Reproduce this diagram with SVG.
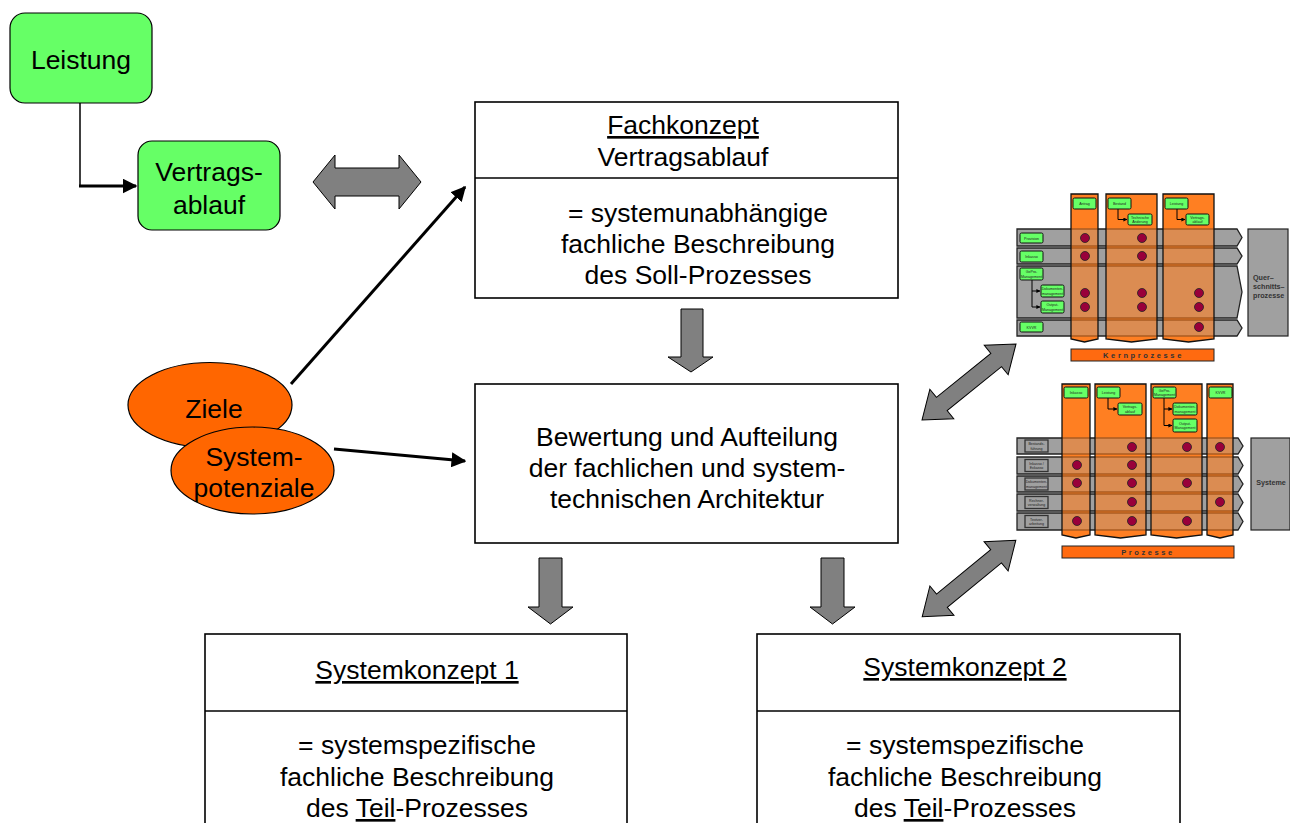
<svg xmlns="http://www.w3.org/2000/svg" width="1290" height="823" viewBox="0 0 1290 823">
  <style>
    .t{font-family:"Liberation Sans",Arial,sans-serif;font-size:26.5px;fill:#000;text-anchor:middle}
    .box{fill:#fff;stroke:#000;stroke-width:1.6}
    .green{fill:#66ff66;stroke:#000;stroke-width:1.2}
    .oval{fill:#ff6600;stroke:#000;stroke-width:1.2}
    .block{fill:#808080;stroke:#000;stroke-width:1}
    .ln{fill:none;stroke:#000}
    .row{fill:#a0a0a0;stroke:#222;stroke-width:1.3}
    .col{fill:#ff7f22;stroke:none}
    .colo{fill:#ff7f22;fill-opacity:0.62;stroke:#111;stroke-width:1.3}
    .bar{fill:#ff6a10;stroke:#222;stroke-width:1}
    .side{fill:#a0a0a0;stroke:#222;stroke-width:1.2}
    .mg{fill:#66ff66;stroke:#111;stroke-width:1}
    .mgr{fill:#a0a0a0;stroke:#333;stroke-width:1.3}
    .dot{fill:#99003a;stroke:#222;stroke-width:0.8}
    .tiny{font-family:"Liberation Sans",Arial,sans-serif;font-size:3.6px;fill:#222;text-anchor:middle}
    .small{font-family:"Liberation Sans",Arial,sans-serif;font-size:7.2px;font-weight:bold;fill:#333}
    .bartxt{font-family:"Liberation Sans",Arial,sans-serif;font-size:7.5px;font-weight:bold;fill:#333;text-anchor:middle;letter-spacing:2.6px}
    .mln{fill:none;stroke:#000;stroke-width:1}
  </style>
  <defs>
    <marker id="ah" viewBox="0 0 10 10" refX="9" refY="5" markerWidth="5" markerHeight="5" orient="auto" markerUnits="strokeWidth">
      <path d="M0,0 L10,5 L0,10 Z" fill="#000"/>
    </marker>
    <marker id="ahs" viewBox="0 0 10 10" refX="9" refY="5" markerWidth="4" markerHeight="4" orient="auto" markerUnits="strokeWidth">
      <path d="M0,0 L10,5 L0,10 Z" fill="#000"/>
    </marker>
    <path id="dbl" d="M-60.5,0 L-35,-19 V-8.5 H35 V-19 L60.5,0 L35,19 V8.5 H-35 V19 Z"/>
  </defs>

  <!-- connectors -->
  <g id="connectors">
    <polyline class="ln" stroke-width="1.5" points="80,103 80,186"/>
    <line class="ln" stroke-width="3" x1="79" y1="186" x2="136" y2="186" marker-end="url(#ah)"/>
    <line class="ln" stroke-width="3" x1="291" y1="384" x2="465" y2="187" marker-end="url(#ah)"/>
    <line class="ln" stroke-width="3" x1="334" y1="449" x2="465" y2="461" marker-end="url(#ah)"/>
    <path class="block" d="M313,182 L335,155 V168 H399 V155 L421,182 L399,209 V196 H335 V209 Z"/>
    <path class="block" d="M681,309 H703 V357 H713 L691,372 L668,357 H681 Z"/>
    <path class="block" d="M539,558 H562 V607 H573 L550.5,624 L528,607 H539 Z"/>
    <path class="block" d="M821,558 H844 V607 H855 L832.5,624 L810,607 H821 Z"/>
    <use href="#dbl" class="block" transform="translate(969,382) rotate(-39)"/>
    <use href="#dbl" class="block" transform="translate(969,578.5) rotate(-39.3)"/>
  </g>

  <!-- Leistung -->
  <g id="leistung">
    <rect class="green" x="10" y="13" width="142" height="90" rx="15"/>
    <text class="t" x="81" y="69">Leistung</text>
  </g>

  <!-- Vertragsablauf -->
  <g id="vertragsablauf">
    <rect class="green" x="138" y="141" width="142" height="89" rx="14"/>
    <text class="t" x="209" y="181">Vertrags-</text>
    <text class="t" x="209" y="214">ablauf</text>
  </g>

  <!-- Fachkonzept -->
  <g id="fachkonzept">
    <rect class="box" x="475" y="102" width="423" height="196"/>
    <line class="ln" stroke-width="1.6" x1="475" y1="178" x2="898" y2="178"/>
    <text class="t" x="683" y="134" text-decoration="underline">Fachkonzept</text>
    <text class="t" x="683" y="166">Vertragsablauf</text>
    <text class="t" x="698" y="222">= systemunabhängige</text>
    <text class="t" x="698" y="253">fachliche Beschreibung</text>
    <text class="t" x="698" y="284">des Soll-Prozesses</text>
  </g>

  <!-- Bewertung -->
  <g id="bewertung">
    <rect class="box" x="475" y="384" width="423" height="159"/>
    <text class="t" x="687" y="446">Bewertung und Aufteilung</text>
    <text class="t" x="687" y="477">der fachlichen und system-</text>
    <text class="t" x="687" y="508">technischen Architektur</text>
  </g>

  <!-- Ziele -->
  <g id="ziele">
    <ellipse class="oval" cx="210" cy="405" rx="82" ry="42.5"/>
    <text class="t" x="214" y="418">Ziele</text>
  </g>

  <!-- Systempotenziale -->
  <g id="systempotenziale">
    <ellipse class="oval" cx="252.5" cy="470.5" rx="81.5" ry="43.5"/>
    <text class="t" x="254" y="466">System-</text>
    <text class="t" x="254" y="497">potenziale</text>
  </g>

  <!-- Systemkonzept 1 -->
  <g id="systemkonzept1">
    <rect class="box" x="205" y="634" width="422" height="200"/>
    <line class="ln" stroke-width="1.6" x1="205" y1="711" x2="627" y2="711"/>
    <text class="t" x="417" y="679" text-decoration="underline">Systemkonzept 1</text>
    <text class="t" x="417" y="754">= systemspezifische</text>
    <text class="t" x="417" y="786">fachliche Beschreibung</text>
    <text class="t" x="417" y="817">des <tspan text-decoration="underline">Teil</tspan>-Prozesses</text>
  </g>

  <!-- Systemkonzept 2 -->
  <g id="systemkonzept2">
    <rect class="box" x="757" y="634" width="423" height="200"/>
    <line class="ln" stroke-width="1.6" x1="757" y1="711" x2="1180" y2="711"/>
    <text class="t" x="965" y="676" text-decoration="underline">Systemkonzept 2</text>
    <text class="t" x="965" y="754">= systemspezifische</text>
    <text class="t" x="965" y="786">fachliche Beschreibung</text>
    <text class="t" x="965" y="817">des <tspan text-decoration="underline">Teil</tspan>-Prozesses</text>
  </g>

  <!-- Kernprozesse matrix -->
  <g id="kernprozesse">
    <path class="col" d="M1071,194 H1098 V339 L1084.5,342 L1071,339 Z"/>
    <path class="col" d="M1106,194 H1157 V339 L1131.5,342 L1106,339 Z"/>
    <path class="col" d="M1163,194 H1214 V339 L1188.5,342 L1163,339 Z"/>
    <path class="row" d="M1017,229 H1237 L1242,237.5 L1237,246 H1017 Z"/>
    <path class="row" d="M1017,248 H1237 L1242,256 L1237,264 H1017 Z"/>
    <path class="row" d="M1017,266 H1237 L1242,292 L1237,318 H1017 Z"/>
    <path class="row" d="M1017,320 H1237 L1242,328 L1237,336 H1017 Z"/>
    <path class="colo" d="M1071,194 H1098 V339 L1084.5,342 L1071,339 Z"/>
    <path class="colo" d="M1106,194 H1157 V339 L1131.5,342 L1106,339 Z"/>
    <path class="colo" d="M1163,194 H1214 V339 L1188.5,342 L1163,339 Z"/>
    <rect class="side" x="1248" y="229" width="40" height="107"/>
    <text class="small" x="1253" y="280">Quer–</text>
    <text class="small" x="1253" y="289">schnitts–</text>
    <text class="small" x="1253" y="298">prozesse</text>
    <rect class="bar" x="1071" y="349" width="143" height="12"/>
    <text class="bartxt" x="1143.5" y="358">Kernprozesse</text>

    <polyline class="mln" points="1118,209 1118,219.5 1127,219.5" marker-end="url(#ahs)"/>
    <polyline class="mln" points="1177,209 1177,219.5 1185,219.5" marker-end="url(#ahs)"/>
    <polyline class="mln" points="1032,280 1032,307 1040,307" marker-end="url(#ahs)"/>
    <polyline class="mln" points="1032,291 1040,291" marker-end="url(#ahs)"/>

    <rect class="mg" x="1073" y="198" width="23" height="11" rx="1.5"/>
    <text class="tiny" x="1084.5" y="205">Antrag</text>
    <rect class="mg" x="1108" y="198" width="23" height="11" rx="1.5"/>
    <text class="tiny" x="1119.5" y="205">Bestand</text>
    <rect class="mg" x="1128" y="214" width="24" height="11" rx="1.5"/>
    <text class="tiny" x="1140" y="219">Technische</text>
    <text class="tiny" x="1140" y="223">Änderung</text>
    <rect class="mg" x="1165" y="198" width="23" height="11" rx="1.5"/>
    <text class="tiny" x="1176.5" y="205">Leistung</text>
    <rect class="mg" x="1186" y="214" width="23" height="11" rx="1.5"/>
    <text class="tiny" x="1197.5" y="219">Vertrags-</text>
    <text class="tiny" x="1197.5" y="223">ablauf</text>

    <rect class="mg" x="1020" y="233" width="23" height="10" rx="1.5"/>
    <text class="tiny" x="1031.5" y="239.5">Provision</text>
    <rect class="mg" x="1020" y="251" width="23" height="11" rx="1.5"/>
    <text class="tiny" x="1031.5" y="258">Inkasso</text>
    <rect class="mg" x="1020" y="268" width="23" height="12" rx="1.5"/>
    <text class="tiny" x="1031.5" y="273">GePro-</text>
    <text class="tiny" x="1031.5" y="277.5">Management</text>
    <rect class="mg" x="1041" y="285" width="23" height="12" rx="1.5"/>
    <text class="tiny" x="1052.5" y="290">Dokumenten-</text>
    <text class="tiny" x="1052.5" y="294.5">management</text>
    <rect class="mg" x="1041" y="301" width="23" height="12" rx="1.5"/>
    <text class="tiny" x="1052.5" y="306">Output-</text>
    <text class="tiny" x="1052.5" y="310.5">Management</text>
    <rect class="mg" x="1020" y="322" width="23" height="10" rx="1.5"/>
    <text class="tiny" x="1031.5" y="328.5">KVVR</text>

    <circle class="dot" cx="1085" cy="238" r="4.5"/>
    <circle class="dot" cx="1142" cy="238" r="4.5"/>
    <circle class="dot" cx="1085" cy="256" r="4.5"/>
    <circle class="dot" cx="1142" cy="256" r="4.5"/>
    <circle class="dot" cx="1085" cy="293" r="4.5"/>
    <circle class="dot" cx="1142" cy="293" r="4.5"/>
    <circle class="dot" cx="1199" cy="293" r="4.5"/>
    <circle class="dot" cx="1085" cy="307" r="4.5"/>
    <circle class="dot" cx="1142" cy="307" r="4.5"/>
    <circle class="dot" cx="1199" cy="307" r="4.5"/>
    <circle class="dot" cx="1199" cy="327" r="4.5"/>
  </g>

  <!-- Prozesse / Systeme matrix -->
  <g id="prozesse">
    <path class="col" d="M1062,384 H1090 V535 L1076,538 L1062,535 Z"/>
    <path class="col" d="M1095,384 H1146 V535 L1120.5,538 L1095,535 Z"/>
    <path class="col" d="M1151,384 H1202 V535 L1176.5,538 L1151,535 Z"/>
    <path class="col" d="M1207,384 H1233 V535 L1220,538 L1207,535 Z"/>
    <path class="row" d="M1017,438 H1238 L1243,446 L1238,454 H1017 Z"/>
    <path class="row" d="M1017,457 H1238 L1243,465.5 L1238,474 H1017 Z"/>
    <path class="row" d="M1017,476 H1238 L1243,484 L1238,492 H1017 Z"/>
    <path class="row" d="M1017,494 H1238 L1243,502.5 L1238,511 H1017 Z"/>
    <path class="row" d="M1017,513 H1238 L1243,521.5 L1238,530 H1017 Z"/>
    <path class="colo" d="M1062,384 H1090 V535 L1076,538 L1062,535 Z"/>
    <path class="colo" d="M1095,384 H1146 V535 L1120.5,538 L1095,535 Z"/>
    <path class="colo" d="M1151,384 H1202 V535 L1176.5,538 L1151,535 Z"/>
    <path class="colo" d="M1207,384 H1233 V535 L1220,538 L1207,535 Z"/>
    <rect class="side" x="1251" y="438" width="39" height="92"/>
    <text class="small" x="1271" y="485" text-anchor="middle">Systeme</text>
    <rect class="bar" x="1062" y="546" width="172" height="12"/>
    <text class="bartxt" x="1148" y="555">Prozesse</text>

    <polyline class="mln" points="1108,398 1108,409 1117,409" marker-end="url(#ahs)"/>
    <polyline class="mln" points="1164,398 1164,425.5 1172,425.5" marker-end="url(#ahs)"/>
    <polyline class="mln" points="1164,409 1172,409" marker-end="url(#ahs)"/>

    <rect class="mg" x="1064" y="387" width="24" height="11" rx="1.5"/>
    <text class="tiny" x="1076" y="394">Inkasso</text>
    <rect class="mg" x="1097" y="387" width="23" height="11" rx="1.5"/>
    <text class="tiny" x="1108.5" y="394">Leistung</text>
    <rect class="mg" x="1118" y="403" width="24" height="12" rx="1.5"/>
    <text class="tiny" x="1130" y="408">Vertrags-</text>
    <text class="tiny" x="1130" y="412.5">ablauf</text>
    <rect class="mg" x="1153" y="387" width="23" height="11" rx="1.5"/>
    <text class="tiny" x="1164.5" y="391.5">GePro-</text>
    <text class="tiny" x="1164.5" y="396">Management</text>
    <rect class="mg" x="1173" y="403" width="24" height="12" rx="1.5"/>
    <text class="tiny" x="1185" y="408">Dokumenten-</text>
    <text class="tiny" x="1185" y="412.5">management</text>
    <rect class="mg" x="1173" y="419" width="24" height="13" rx="1.5"/>
    <text class="tiny" x="1185" y="424.5">Output-</text>
    <text class="tiny" x="1185" y="429">Management</text>
    <rect class="mg" x="1209" y="387" width="23" height="11" rx="1.5"/>
    <text class="tiny" x="1220.5" y="394">KVVR</text>

    <rect class="mgr" x="1025" y="440" width="23" height="12"/>
    <text class="tiny" x="1036.5" y="445">Bestands-</text>
    <text class="tiny" x="1036.5" y="449.5">führung</text>
    <rect class="mgr" x="1025" y="459.5" width="23" height="12"/>
    <text class="tiny" x="1036.5" y="464.5">Inkasso /</text>
    <text class="tiny" x="1036.5" y="469">Exkasso</text>
    <rect class="mgr" x="1025" y="478" width="23" height="12"/>
    <text class="tiny" x="1036.5" y="483">Dokumenten-</text>
    <text class="tiny" x="1036.5" y="487.5">management</text>
    <rect class="mgr" x="1025" y="496.5" width="23" height="12"/>
    <text class="tiny" x="1036.5" y="501.5">Rechner-</text>
    <text class="tiny" x="1036.5" y="506">verwaltung</text>
    <rect class="mgr" x="1025" y="515.5" width="23" height="12"/>
    <text class="tiny" x="1036.5" y="520.5">Textver-</text>
    <text class="tiny" x="1036.5" y="525">arbeitung</text>

    <circle class="dot" cx="1132" cy="447" r="4.5"/>
    <circle class="dot" cx="1187" cy="447" r="4.5"/>
    <circle class="dot" cx="1220" cy="447" r="4.5"/>
    <circle class="dot" cx="1077" cy="465" r="4.5"/>
    <circle class="dot" cx="1132" cy="465" r="4.5"/>
    <circle class="dot" cx="1077" cy="483" r="4.5"/>
    <circle class="dot" cx="1132" cy="483" r="4.5"/>
    <circle class="dot" cx="1187" cy="483" r="4.5"/>
    <circle class="dot" cx="1132" cy="502" r="4.5"/>
    <circle class="dot" cx="1220" cy="502" r="4.5"/>
    <circle class="dot" cx="1077" cy="521" r="4.5"/>
    <circle class="dot" cx="1132" cy="521" r="4.5"/>
    <circle class="dot" cx="1187" cy="521" r="4.5"/>
  </g>
</svg>
